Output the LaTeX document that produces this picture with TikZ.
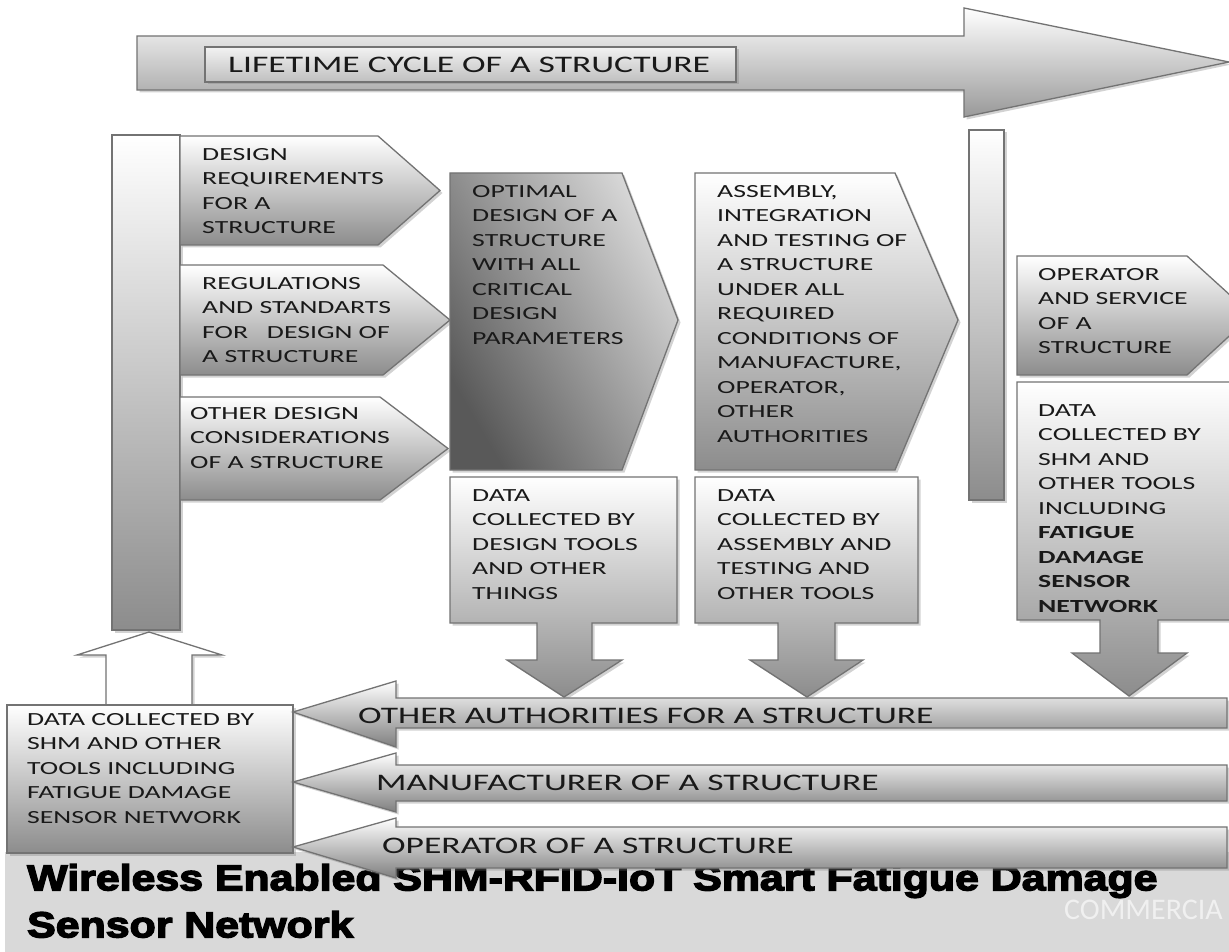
\documentclass[tikz,border=0pt]{standalone}
\usepackage{fontspec}
\usetikzlibrary{shadows}

\newfontfamily\schrift[FakeStretch=1.5]{Carlito}
\newfontfamily\wasserschrift{Carlito}
\newfontfamily\titelschrift[FakeStretch=1.19,FakeBold=4]{Liberation Sans}

\tikzset{
  rahmen/.style={draw=black!55, line width=1.3pt},
  schatten/.style={drop shadow={shadow xshift=2.5pt, shadow yshift=-2.5pt, opacity=.35}},
  hellgrau/.style={rahmen, schatten, top color=white, bottom color=black!45},
  klein/.style={font=\schrift\fontsize{18.5}{24.5}\selectfont, anchor=north west, inner sep=0pt, align=left, text=black!90},
  gross/.style={font=\schrift\fontsize{23.7}{28}\selectfont, anchor=west, inner sep=0pt, text=black!90},
  titel/.style={font=\titelschrift\bfseries\fontsize{36}{47}\selectfont, anchor=north west, inner sep=0pt, align=left, text=black}
}

\begin{document}
\begin{tikzpicture}[x=1pt,y=-1pt]
    % Bildausschnitt
    \clip (0,0) rectangle (1229,952);
    \fill[white] (0,0) rectangle (1229,952);

    % Graues Band mit Titel
    \fill[black!15] (5,852) rectangle (1229,952);
    \node[titel] (titel) at (27,864) {Wireless Enabled SHM-RFID-IoT Smart Fatigue Damage\\Sensor Network};
    \node[font=\wasserschrift\fontsize{30}{30}\selectfont, text=black!6, anchor=west, inner sep=0pt] (wasser) at (1064,910) {COMMERCIA};

    % Lebenszyklus-Pfeil oben
    \path[rahmen, schatten, top color=white, bottom color=black!40] (137,36) -- (964,36) -- (964,8) -- (1229,62) -- (964,117) -- (964,90) -- (137,90) -- cycle;
    \path[rahmen, schatten, top color=black!5, bottom color=black!25] (205,47) rectangle (736,82);
    \node[gross] (zyklus) at (228,65) {LIFETIME CYCLE OF A STRUCTURE};

    % Linke Saeule mit drei Eingaben
    \path[hellgrau] (112,135) rectangle (180,630);
    \foreach \kn/\oben/\unten/\ecke/\spitze/\tx/\ty/\inhalt in {
        anforderung/136/245/378/440/202/148/{DESIGN\\REQUIREMENTS\\FOR A\\STRUCTURE},
        normen/265/375/383/450/202/277/{REGULATIONS\\AND STANDARTS\\FOR\ \ \ DESIGN OF\\A STRUCTURE},
        sonstiges/397/500/380/448/190/407/{OTHER DESIGN\\CONSIDERATIONS\\OF A STRUCTURE}} {
        \path[hellgrau] (180,\oben) -- (\ecke,\oben) -- (\spitze,{(\oben+\unten)/2}) -- (\ecke,\unten) -- (180,\unten) -- cycle;
        \node[klein] (\kn) at (\tx,\ty) {\inhalt};
    }

    % Optimales Design
    \path[rahmen, schatten, left color=black!65, right color=black!15, shading angle=120] (450,173) -- (622,173) -- (678,320) -- (622,470) -- (450,470) -- cycle;
    \node[klein] (optimal) at (472,185) {OPTIMAL\\DESIGN OF A\\STRUCTURE\\WITH ALL\\CRITICAL\\DESIGN\\PARAMETERS};

    % Montage und Test
    \path[hellgrau] (695,173) -- (895,173) -- (958,320) -- (895,470) -- (695,470) -- cycle;
    \node[klein] (montage) at (717,185) {ASSEMBLY,\\INTEGRATION\\AND TESTING OF\\A STRUCTURE\\UNDER ALL\\REQUIRED\\CONDITIONS OF\\MANUFACTURE,\\OPERATOR,\\OTHER\\AUTHORITIES};

    % Datenkaesten mit Pfeil nach unten
    \foreach \kn/\xl/\xr/\stiell/\stielr/\kopfl/\kopfr/\spitze/\inhalt in {
        daten1/450/677/537/592/507/622/564/{DATA\\COLLECTED BY\\DESIGN TOOLS\\AND OTHER\\THINGS},
        daten2/695/918/778/835/750/863/807/{DATA\\COLLECTED BY\\ASSEMBLY AND\\TESTING AND\\OTHER TOOLS}} {
        \path[hellgrau] (\xl,477) -- (\xr,477) -- (\xr,623) -- (\stielr,623) -- (\stielr,660) -- (\kopfr,660) -- (\spitze,697) -- (\kopfl,660) -- (\stiell,660) -- (\stiell,623) -- (\xl,623) -- cycle;
        \node[klein] (\kn) at ({\xl+22},489) {\inhalt};
    }

    % Rechte Saeule, Betrieb und SHM-Daten
    \path[hellgrau] (969,130) rectangle (1004,500);
    \path[hellgrau] (1017,256) -- (1187,256) -- (1252,315) -- (1187,375) -- (1017,375) -- cycle;
    \node[klein] (betrieb) at (1038,268) {OPERATOR\\AND SERVICE\\OF A\\STRUCTURE};
    \path[hellgrau] (1017,382) -- (1260,382) -- (1260,620) -- (1158,620) -- (1158,653) -- (1187,653) -- (1129,696) -- (1072,653) -- (1100,653) -- (1100,620) -- (1017,620) -- cycle;
    \node[klein] (shm) at (1038,404) {DATA\\COLLECTED BY\\SHM AND\\OTHER TOOLS\\INCLUDING\\\textbf{FATIGUE}\\\textbf{DAMAGE}\\\textbf{SENSOR}\\\textbf{NETWORK}};

    % Rueckfuehrung links unten
    \path[rahmen, schatten, fill=white] (106,705) -- (106,655) -- (77,655) -- (149,632) -- (222,655) -- (192,655) -- (192,705) -- cycle;
    \path[hellgrau] (7,705) rectangle (293,853);
    \node[klein] (sammlung) at (27,713) {DATA COLLECTED BY\\SHM AND OTHER\\TOOLS INCLUDING\\FATIGUE DAMAGE\\SENSOR NETWORK};

    % Pfeile nach links
    \foreach \kn/\sy/\ko/\bo/\bu/\ku/\tx/\ty/\inhalt in {
        behoerden/712/681/698/728/747/358/716/{OTHER AUTHORITIES FOR A STRUCTURE},
        hersteller/782/753/765/801/812/376/783/{MANUFACTURER OF A STRUCTURE},
        betreiber/847/818/827/868/878/382/846/{OPERATOR OF A STRUCTURE}} {
        \path[rahmen, schatten, top color=white, bottom color=black!50] (293,\sy) -- (396,\ko) -- (396,\bo) -- (1227,\bo) -- (1227,\bu) -- (396,\bu) -- (396,\ku) -- cycle;
        \node[gross] (\kn) at (\tx,\ty) {\inhalt};
    }
\end{tikzpicture}
\end{document}
